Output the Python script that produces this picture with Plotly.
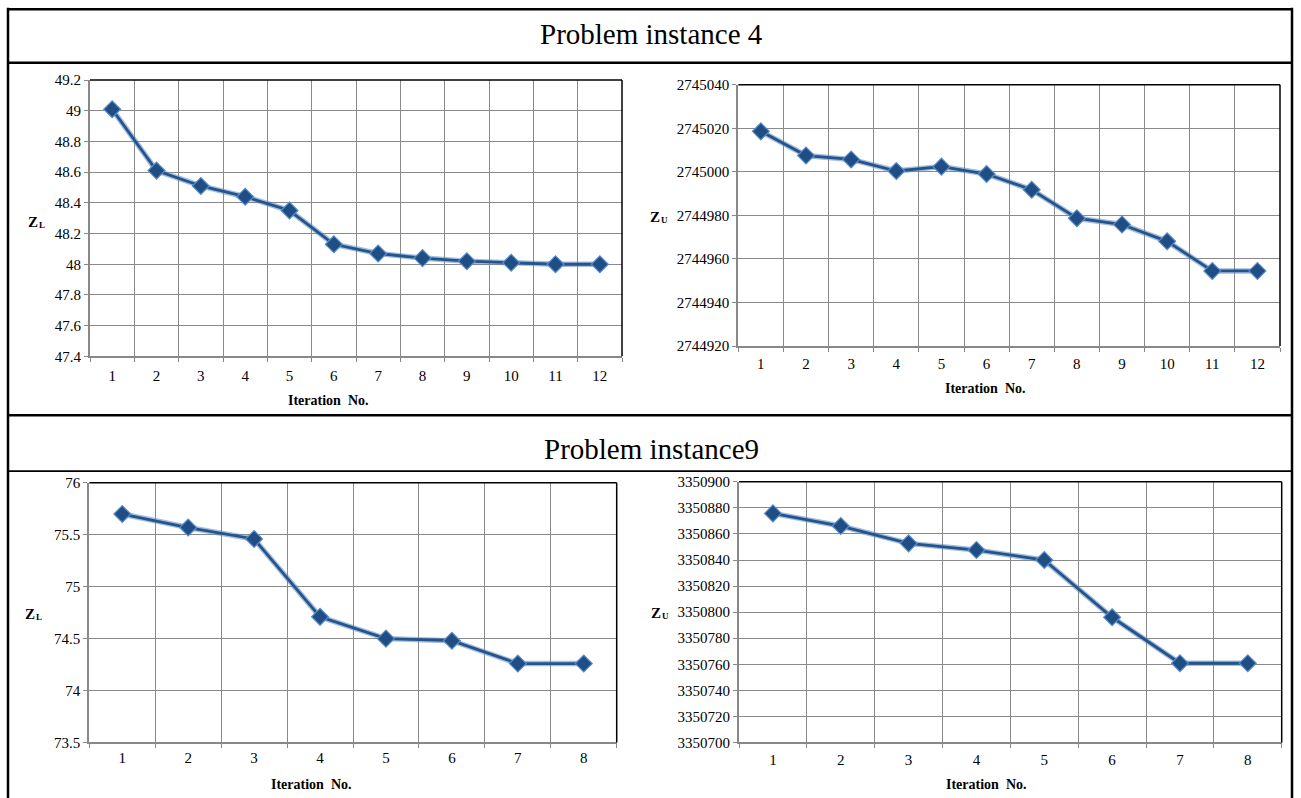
import plotly.graph_objects as go

W, H = 1301, 798

# ---------------- data ----------------
iter_inst4 = [1, 2, 3, 4, 5, 6, 7, 8, 9, 10, 11, 12]
zl_inst4 = [49.01, 48.61, 48.51, 48.44, 48.35, 48.13, 48.07, 48.04, 48.02, 48.01, 48.00, 48.00]
zu_inst4 = [2745018.6, 2745007.5, 2745005.7, 2745000.4, 2745002.4, 2744999.0,
            2744991.8, 2744978.7, 2744975.8, 2744968.1, 2744954.5, 2744954.5]

iter_inst9 = [1, 2, 3, 4, 5, 6, 7, 8]
zl_inst9 = [75.70, 75.57, 75.46, 74.71, 74.50, 74.48, 74.26, 74.26]
zu_inst9 = [3350875.8, 3350866.1, 3350852.8, 3350847.7, 3350840.0, 3350796.1, 3350760.8, 3350760.8]

zl4_ticks = ["47.4", "47.6", "47.8", "48", "48.2", "48.4", "48.6", "48.8", "49", "49.2"]
zu4_ticks = ["2744920", "2744940", "2744960", "2744980", "2745000", "2745020", "2745040"]
zl9_ticks = ["73.5", "74", "74.5", "75", "75.5", "76"]
zu9_ticks = ["3350700", "3350720", "3350740", "3350760", "3350780", "3350800",
             "3350820", "3350840", "3350860", "3350880", "3350900"]

titles = ["Problem instance 4", "Problem instance9"]
x_title = "Iteration  No."
y_title_main = "Z"
y_sub_lower = "L"
y_sub_upper = "U"

# ---------------- helpers ----------------
FONT = "Liberation Serif"
GRID = "#8a8a8a"
AXIS = "#888888"
LINE_C = "#24548c"
GLOW_C = "rgba(90,135,195,0.55)"
MK_C = "#1f4e85"
MK_EDGE = "#5b8bc9"

# vertical calibration of the rendered page (screen = OFF + SCL * figure)
OFF, SCL = 7.13, 0.9814


def px_x(p):
    return p / W


def px_y(p):
    return 1 - ((p - OFF) / SCL) / H


panels = [
    # x, y, ticks, x-pixels, y-pixels, x tick-label standoff
    (iter_inst4, zl_inst4, zl4_ticks, (90, 622), (79.3, 356), 5),
    (iter_inst4, zu_inst4, zu4_ticks, (738.3, 1280), (84, 345.7), 3),
    (iter_inst9, zl_inst9, zl9_ticks, (89.3, 616.7), (482.7, 742.7), 1),
    (iter_inst9, zu_inst9, zu9_ticks, (739, 1281.7), (481.7, 742.7), 3),
]

fig = go.Figure()
layout = dict(
    width=W, height=H,
    margin=dict(l=0, r=0, t=0, b=0),
    paper_bgcolor="white", plot_bgcolor="white",
    showlegend=False,
    font=dict(family=FONT, color="black"),
)
shapes = []
annotations = []

for i, (xs, ys, ticks, (x0, x1), (y0, y1), stand) in enumerate(panels):
    k = "" if i == 0 else str(i + 1)
    xa, ya = "x" + k, "y" + k
    tv = [float(t) for t in ticks]
    fig.add_trace(go.Scatter(x=xs, y=ys, xaxis=xa, yaxis=ya, mode="lines",
                             line=dict(color=GLOW_C, width=5.5), hoverinfo="skip"))
    fig.add_trace(go.Scatter(x=xs, y=ys, xaxis=xa, yaxis=ya, mode="lines+markers",
                             line=dict(color=LINE_C, width=2.8),
                             marker=dict(symbol="diamond", size=13, color=MK_C,
                                         line=dict(color=MK_EDGE, width=1.2))))
    layout["xaxis" + k] = dict(
        domain=[px_x(x0), px_x(x1)], anchor=ya, type="category",
        range=[-0.5, len(xs) - 0.5], tickson="boundaries",
        showgrid=True, gridcolor=GRID, gridwidth=1,
        showline=True, linecolor=AXIS, linewidth=2,
        ticks="outside", ticklen=4, tickcolor=AXIS, ticklabelstandoff=stand,
        tickfont=dict(family=FONT, size=15, color="black"),
        fixedrange=True,
    )
    layout["yaxis" + k] = dict(
        domain=[px_y(y1), px_y(y0)], anchor=xa,
        range=[tv[0], tv[-1]], tickmode="array", tickvals=tv, ticktext=ticks,
        showgrid=True, gridcolor=GRID, gridwidth=1, zeroline=False,
        showline=True, linecolor=AXIS, linewidth=2,
        ticks="outside", ticklen=4, tickcolor=AXIS,
        tickfont=dict(family=FONT, size=15, color="black"),
        fixedrange=True,
    )
    shapes.append(dict(type="line", xref=xa + " domain", yref=ya + " domain",
                       x0=0, x1=1, y0=1, y1=1, line=dict(color="black", width=1.5)))
    shapes.append(dict(type="line", xref=xa + " domain", yref=ya + " domain",
                       x0=1, x1=1, y0=0, y1=1, line=dict(color="black", width=1.5)))

# axis titles (pixel centres)
x_title_pos = [(328, 400), (985.5, 388), (311.5, 785), (986.3, 785)]
y_title_pos = [(39.5, 221, y_sub_lower), (661.5, 216, y_sub_upper),
               (36.5, 614, y_sub_lower), (663, 613, y_sub_upper)]
for (cx, cy) in x_title_pos:
    annotations.append(dict(text=x_title, xref="paper", yref="paper",
                            x=px_x(cx), y=px_y(cy), xanchor="center", yanchor="middle",
                            showarrow=False,
                            font=dict(family=FONT, size=14, color="black", weight="bold")))
for (cx, cy, sub) in y_title_pos:
    annotations.append(dict(text=y_title_main, xref="paper", yref="paper",
                            x=px_x(cx), y=px_y(cy), xanchor="right", yanchor="middle",
                            showarrow=False,
                            font=dict(family=FONT, size=15, color="black", weight="bold")))
    annotations.append(dict(text=sub, xref="paper", yref="paper",
                            x=px_x(cx - 3), y=px_y(cy + 3), xanchor="left", yanchor="middle",
                            showarrow=False,
                            font=dict(family=FONT, size=9, color="black", weight="bold")))

# section titles
for t, cy in zip(titles, [33, 449]):
    annotations.append(dict(text=t, xref="paper", yref="paper",
                            x=px_x(651), y=px_y(cy), xanchor="center", yanchor="middle",
                            showarrow=False, font=dict(family=FONT, size=29, color="black")))


def hline(py, w):
    shapes.append(dict(type="line", xref="paper", yref="paper",
                       x0=px_x(8), x1=px_x(1292), y0=px_y(py), y1=px_y(py),
                       line=dict(color="black", width=w)))


def vline(px, w):
    shapes.append(dict(type="line", xref="paper", yref="paper",
                       x0=px_x(px), x1=px_x(px), y0=px_y(7), y1=-0.05,
                       line=dict(color="black", width=w)))


hline(8.4, 2.5)
hline(62, 2.5)
hline(415, 2.5)
hline(471, 1.8)
vline(8, 2.5)
vline(1292, 2.5)

layout["shapes"] = shapes
layout["annotations"] = annotations
fig.update_layout(**layout)
fig.write_html("out.html")
